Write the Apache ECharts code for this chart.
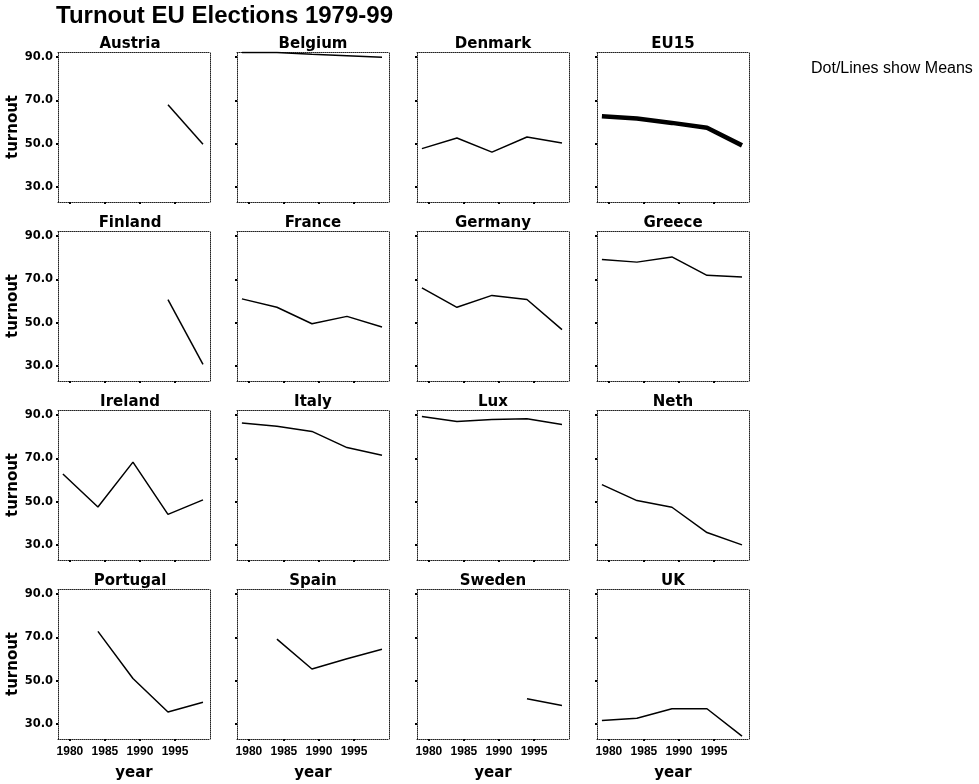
<!DOCTYPE html>
<html><head><meta charset="utf-8">
<script src="https://cdn.jsdelivr.net/npm/echarts@6/dist/echarts.min.js"></script>
<style>html,body{margin:0;padding:0;background:#fff}#c{width:979px;height:784px}</style>
</head><body><div id="c"></div>
<script>
// ---- data ----
const years = [1979, 1984, 1989, 1994, 1999];
const countries = ['Austria','Belgium','Denmark','EU15','Finland','France','Germany','Greece',
                   'Ireland','Italy','Lux','Neth','Portugal','Spain','Sweden','UK'];
const austria  = [null, null, null, 68.0, 49.7];
const belgium  = [92.2, 92.2, 91.4, 90.7, 90.0];
const denmark  = [47.7, 52.6, 46.1, 53.1, 50.3];
const eu15     = [62.7, 61.6, 59.6, 57.4, 49.2];
const finland  = [null, null, null, 60.6, 30.7];
const france   = [61.0, 57.1, 49.5, 52.9, 48.0];
const germany  = [66.1, 57.1, 62.6, 60.7, 46.8];
const greece   = [79.2, 78.0, 80.4, 71.9, 71.1];
const ireland  = [62.8, 47.5, 68.3, 44.1, 50.8];
const italy    = [86.4, 84.9, 82.5, 75.0, 71.5];
const lux      = [89.4, 87.1, 88.0, 88.4, 85.7];
const neth     = [57.9, 50.5, 47.4, 35.7, 30.0];
const portugal = [null, 72.8, 51.0, 35.5, 40.0];
const spain    = [null, 69.2, 55.4, 60.1, 64.5];
const sweden   = [null, null, null, 41.6, 38.5];
const uk       = [31.6, 32.6, 37.0, 37.0, 24.3];
const values = [austria, belgium, denmark, eu15, finland, france, germany, greece,
                ireland, italy, lux, neth, portugal, spain, sweden, uk];
const xTickValues = [1980, 1985, 1990, 1995];
const yTickValues = [30, 50, 70, 90];
const mainTitle = 'Turnout EU Elections 1979-99';
const noteText = 'Dot/Lines show Means';
const xName = 'year';
const yName = 'turnout';

// ---- layout ----
const colLeft = [58, 237, 417, 597];
const rowTop = [52, 231, 410, 589];
const W = 152, H = 150;
const dotted = { color: '#222', width: 1, type: [1, 1] };

const chart = echarts.init(document.getElementById('c'), null, { renderer: 'canvas' });
const grid = [], xAxis = [], yAxis = [], series = [];
const title = [
  { text: mainTitle, left: 56, top: 4, padding: 0,
    textStyle: { fontFamily: 'Liberation Sans, Arial', fontWeight: 'bold', fontSize: 24, color: '#000' } },
  { text: noteText, left: 811, top: 61, padding: 0,
    textStyle: { fontFamily: 'Liberation Sans, Arial', fontWeight: 'normal', fontSize: 16, color: '#000' } }
];

countries.forEach((name, i) => {
  const r = Math.floor(i / 4), c = i % 4;
  grid.push({ left: colLeft[c], top: rowTop[r], width: W, height: H, containLabel: false });
  title.push({ text: name, left: colLeft[c] + W / 2 - (c === 0 ? 4 : 0), top: rowTop[r] - 15, padding: 0,
    textAlign: 'center',
    textStyle: { fontFamily: 'DejaVu Sans', fontWeight: 'bold', fontSize: 15, color: '#000' } });
  const bottomRow = r === 3, firstCol = c === 0;
  // main x axis (bottom)
  xAxis.push({ type: 'value', gridIndex: i, position: 'bottom', min: 1978.3, max: 2000,
    splitLine: { show: false },
    axisLine: { show: true, lineStyle: dotted },
    axisTick: { show: true, customValues: xTickValues, length: 2, lineStyle: { color: '#000', width: 2 } },
    axisLabel: { show: bottomRow, customValues: xTickValues, margin: 7, color: '#000',
      formatter: v => String(v),
      fontFamily: 'Liberation Sans, Arial', fontWeight: 'bold', fontSize: 12 },
    name: bottomRow ? xName : '', nameLocation: 'middle', nameGap: 27,
    nameTextStyle: { fontFamily: 'DejaVu Sans', fontWeight: 'bold', fontSize: 15, color: '#000' } });
  // top border axis
  xAxis.push({ type: 'value', gridIndex: i, position: 'top', min: 1978.3, max: 2000,
    splitLine: { show: false }, axisLine: { show: true, lineStyle: dotted },
    axisTick: { show: false }, axisLabel: { show: false } });
  // main y axis (left)
  yAxis.push({ type: 'value', gridIndex: i, position: 'left', min: 23, max: 92.4,
    splitLine: { show: false },
    axisLine: { show: true, lineStyle: dotted },
    axisTick: { show: true, customValues: yTickValues, length: 2, lineStyle: { color: '#000', width: 2 } },
    axisLabel: { show: firstCol, customValues: yTickValues, margin: 5, color: '#000',
      formatter: v => v.toFixed(1),
      fontFamily: 'DejaVu Sans', fontWeight: 'bold', fontSize: 11.5 },
    name: firstCol ? yName : '', nameLocation: 'middle', nameRotate: 90, nameGap: 33,
    nameTextStyle: { fontFamily: 'DejaVu Sans', fontWeight: 'bold', fontSize: 15, color: '#000' } });
  // right border axis
  yAxis.push({ type: 'value', gridIndex: i, position: 'right', min: 23, max: 92.4,
    splitLine: { show: false }, axisLine: { show: true, lineStyle: dotted },
    axisTick: { show: false }, axisLabel: { show: false } });

  const vals = values[i];
  const data = years.map((y, k) => [y, vals[k]]).filter(p => p[1] !== null);
  series.push({ type: 'line', name: name, xAxisIndex: 2 * i, yAxisIndex: 2 * i, data: data,
    showSymbol: false, silent: true, animation: false,
    lineStyle: { color: '#000', width: name === 'EU15' ? 4.5 : 1.5 } });
});

chart.setOption({ animation: false, backgroundColor: '#fff', title, grid, xAxis, yAxis, series });
</script>
</body></html>
